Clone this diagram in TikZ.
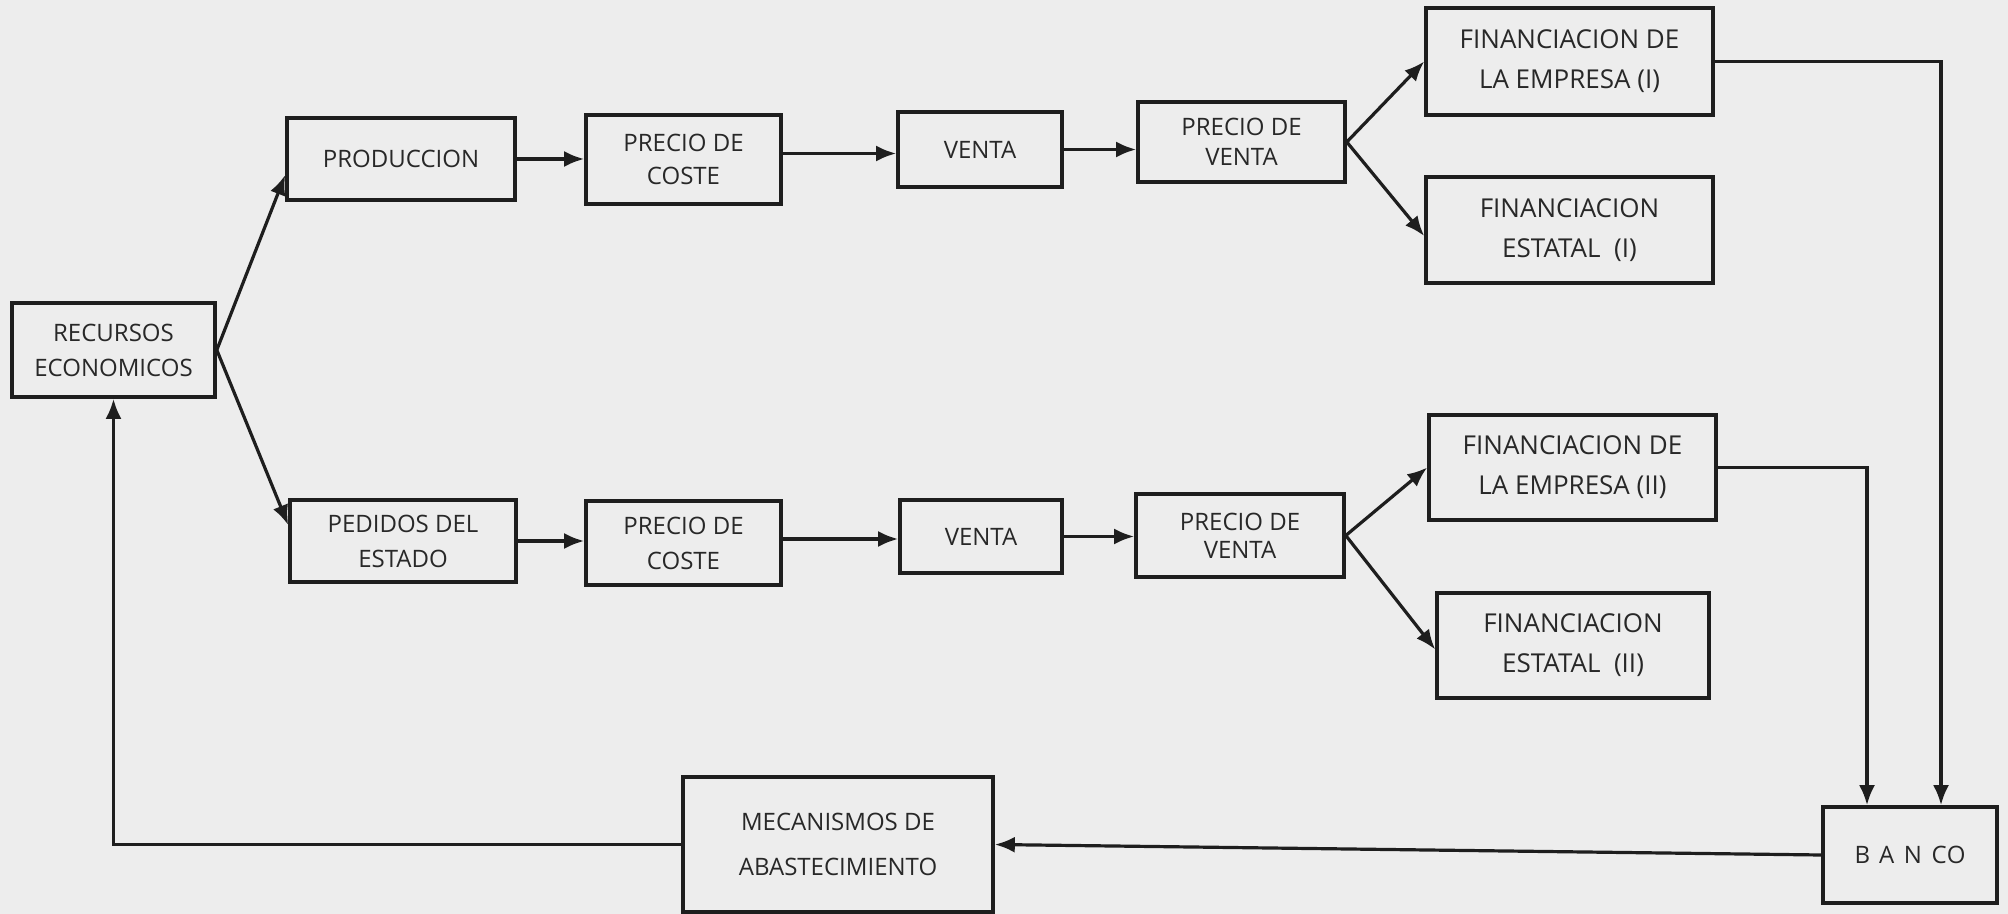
\documentclass[tikz,border=0pt]{standalone}
\usepackage{fontspec}
\setmainfont{Open Sans}
\usetikzlibrary{arrows.meta}
\definecolor{paper}{RGB}{237,237,237}
\definecolor{ink}{RGB}{30,30,30}
\definecolor{type}{RGB}{40,40,40}
\begin{document}
\begin{tikzpicture}[x=0.5pt,y=-0.5pt,
  box/.style={draw=ink, line width=1.8pt, inner sep=0pt, align=center, text=type,
    font=\fontsize{12}{17}\selectfont},
  txtlead/.style={font=\fontsize{12}{#1}\selectfont},
  widelead/.style={font=\fontsize{13}{#1}\selectfont},
  flow/.style={draw=ink, line width=1.6pt, -{Latex[length=10pt,width=8pt]}},
  link/.style={draw=ink, line width=1.6pt}]

\fill[paper] (0,0) rectangle (2008,914);
\useasboundingbox (0,0) rectangle (2008,914);

% upper chain
\node[box, txtlead=17.5pt, minimum width=101.5pt, minimum height=47pt] (rec) at (113.5,350) {RECURSOS\\ECONOMICOS};
\node[box, minimum width=114pt, minimum height=41pt] (prod) at (401,159) {PRODUCCION};
\node[box, txtlead=16.5pt, minimum width=97.5pt, minimum height=44.5pt] (pc1) at (683.5,159.5) {PRECIO DE\\COSTE};
\node[box, minimum width=82pt, minimum height=37.5pt] (v1) at (980,149.5) {VENTA};
\node[box, txtlead=15pt, minimum width=103.5pt, minimum height=40pt] (pv1) at (1241.5,142) {PRECIO DE\\VENTA};
\node[box, widelead=20pt, minimum width=143.5pt, minimum height=53.5pt] (fe1) at (1569.5,61.5) {FINANCIACION DE\\LA EMPRESA (I)};
\node[box, widelead=20pt, minimum width=143.5pt, minimum height=53pt] (fs1) at (1569.5,230) {FINANCIACION\\ESTATAL\ \ (I)};

% lower chain
\node[box, txtlead=17.5pt, minimum width=113pt, minimum height=41pt] (ped) at (403,541) {PEDIDOS DEL\\ESTADO};
\node[box, txtlead=17.5pt, minimum width=97.5pt, minimum height=42pt] (pc2) at (683.5,543) {PRECIO DE\\COSTE};
\node[box, minimum width=81pt, minimum height=36.5pt] (v2) at (981,536.5) {VENTA};
\node[box, txtlead=14pt, minimum width=104pt, minimum height=41.5pt] (pv2) at (1240,535.5) {PRECIO DE\\VENTA};
\node[box, widelead=20pt, minimum width=143.5pt, minimum height=52.5pt] (fe2) at (1572.5,467.5) {FINANCIACION DE\\LA EMPRESA (II)};
\node[box, widelead=20pt, minimum width=136pt, minimum height=52.5pt] (fs2) at (1573,645.5) {FINANCIACION\\ESTATAL\ \ (II)};

% return path
\node[box, txtlead=22.5pt, minimum width=155pt, minimum height=67.5pt] (mec) at (838,844.5) {MECANISMOS DE\\ABASTECIMIENTO};
\node[box, minimum width=87pt, minimum height=48pt] (banco) at (1910,855) {\addfontfeature{LetterSpace=40}BANC\addfontfeature{LetterSpace=0}O};

% exit points of the cost boxes, a little above their middle
\coordinate (pc1out) at ([yshift=3pt]pc1.east);
\coordinate (pc2out) at ([yshift=2pt]pc2.east);

% connectors
\draw[flow] (rec.east) -- ([yshift=-8pt]prod.west);
\draw[flow] (rec.east) -- ([yshift=8pt]ped.west);

\draw[flow] (prod) -- (pc1.west |- prod);
\draw[flow] (pc1out) -- (v1.west |- pc1out);
\draw[flow] (v1) -- (pv1.west |- v1);
\draw[flow] (pv1.east) -- (fe1.west);
\draw[flow] (pv1.east) -- ([yshift=-3pt]fs1.west);

\draw[flow] (ped) -- (pc2.west |- ped);
\draw[flow] (pc2out) -- (v2.west |- pc2out);
\draw[flow] (v2) -- (pv2.west |- v2);
\draw[flow] (pv2.east) -- (fe2.west);
\draw[flow] (pv2.east) -- ([yshift=-2pt]fs2.west);

\draw[flow] (fe1.east) -| ([xshift=15.5pt]banco.north);
\draw[flow] (fe2.east) -| ([xshift=-21.5pt]banco.north);
\draw[flow] (banco.west) -- (mec.east);
\draw[flow] (mec.west) -| (rec.south);

\end{tikzpicture}
\end{document}
